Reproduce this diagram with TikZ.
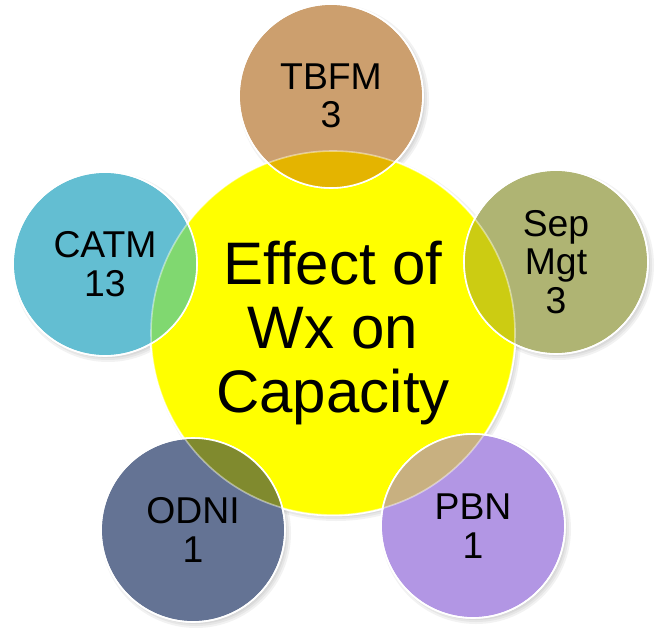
\documentclass[tikz,border=0pt]{standalone}
\usepackage{fontspec}
\setmainfont{Liberation Sans}
\definecolor{corefill}{RGB}{255,255,0}
\definecolor{tbfmfill}{RGB}{204,159,110}
\definecolor{catmfill}{RGB}{99,190,210}
\definecolor{sepfill}{RGB}{175,180,115}
\definecolor{odnifill}{RGB}{100,115,148}
\definecolor{pbnfill}{RGB}{178,150,228}
\definecolor{tbfmov}{RGB}{228,180,0}
\definecolor{catmov}{RGB}{128,216,112}
\definecolor{sepov}{RGB}{204,204,18}
\definecolor{odniov}{RGB}{128,138,46}
\definecolor{pbnov}{RGB}{200,176,128}
\pgfdeclarelayer{background}
\pgfsetlayers{background,main}
\begin{document}
\begin{tikzpicture}[x=0.75pt,y=-0.75pt,
  hub/.style={draw=white, line width=1.2pt, circle, inner sep=0pt, minimum size=274pt,
    fill=corefill, align=center, font={\fontsize{45}{48}\selectfont}},
  spoke/.style={draw=white, line width=1.2pt, circle, inner sep=0pt, minimum size=138pt,
    align=center, font={\fontsize{28}{29}\selectfont}}]
\useasboundingbox (0,0) rectangle (655,627);

\node[hub] (core) at (333,333) {Effect of\\Wx on\\Capacity};

\node[spoke, fill=tbfmfill] (tbfm) at (331,96) {TBFM\\3};
\node[spoke, fill=catmfill] (catm) at (105,264) {CATM\\13};
\node[spoke, fill=sepfill] (sep) at (556,262) {Sep\\Mgt\\3};
\node[spoke, fill=odnifill] (odni) at (193,530) {ODNI\\1};
\node[spoke, fill=pbnfill] (pbn) at (473,526) {PBN\\1};

% overlaps with the hub
\begin{scope}
\clip (core.center) circle (182);
\foreach \n/\c in {tbfm/tbfmov,catm/catmov,sep/sepov,odni/odniov,pbn/pbnov}
  \fill[\c] (\n.center) circle (92);
\end{scope}
\draw[white, opacity=0.45, line width=1.2pt] (core.center) circle (182);
\foreach \n in {tbfm,catm,sep,odni,pbn}
  \draw[white, line width=1.2pt] (\n.center) circle (92);

% soft shadows
\begin{pgfonlayer}{background}
\foreach \w in {-3,-1,1,3}
  \fill[black, opacity=0.05] ([shift={(3,3)}]core.center) circle (182+\w);
\foreach \n in {tbfm,catm,sep,odni,pbn}
  \foreach \w in {-3,-1,1,3}
    \fill[black, opacity=0.05] ([shift={(3,3)}]\n.center) circle (92+\w);
\end{pgfonlayer}
\end{tikzpicture}
\end{document}
